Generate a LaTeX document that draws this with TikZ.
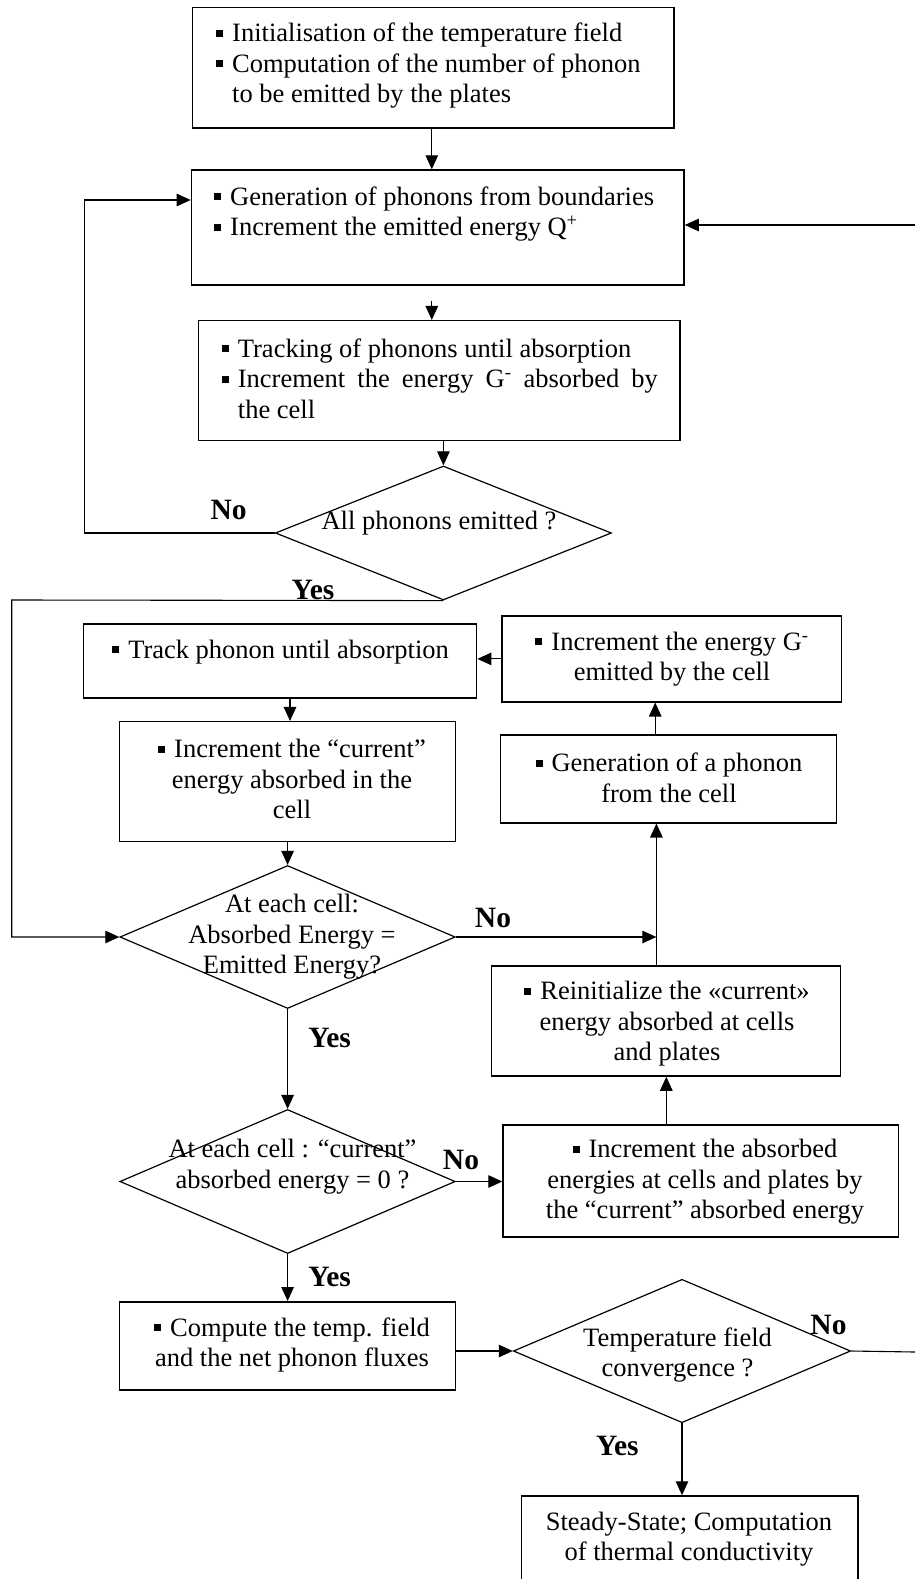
\documentclass[tikz,border=0pt]{standalone}
\usepackage{fontspec}
\setmainfont{Liberation Serif}
\usetikzlibrary{arrows.meta,shapes.geometric}
\newcommand\blt{\makebox[16pt][l]{\raisebox{5pt}{\rule{7pt}{7pt}}}}
\newcommand\hng{\makebox[16pt]{}}
\begin{document}
\begin{tikzpicture}[x=1pt,y=-1pt,
  font=\fontsize{26.5}{30.5}\selectfont,
  box/.style={draw, rectangle, line width=1.5pt, inner sep=0pt},
  dia/.style={draw, diamond, line width=1.2pt, inner sep=0pt},
  txt/.style={inner sep=0pt, align=center},
  txl/.style={inner sep=0pt, align=left, anchor=west},
  lbl/.style={inner sep=0pt, font=\fontsize{29.5}{32}\selectfont\bfseries},
  arr/.style={line width=1.1pt, -{Triangle[length=14pt,width=12.5pt]}},
  ln/.style={line width=1.1pt}]
\fill[white] (0,0) rectangle (915,1579);
\useasboundingbox (0,0) rectangle (915,1579);

% boxes
\node[box, minimum width=481.4pt, minimum height=120.7pt] (b1) at (433.3,67.65) {};
\node[box, minimum width=492.6pt, minimum height=115pt] (b2) at (437.7,227.5) {};
\node[box, minimum width=481.4pt, minimum height=120pt] (b3) at (439.1,380.7) {};
\node[box, minimum width=393.3pt, minimum height=73.7pt] (b4) at (280,660.9) {};
\node[box, minimum width=339.6pt, minimum height=85.7pt] (b5) at (671.6,658.9) {};
\node[box, minimum width=336.1pt, minimum height=87.7pt] (b6) at (668.6,778.9) {};
\node[box, minimum width=336.1pt, minimum height=120pt] (b7) at (287.6,781.7) {};
\node[box, minimum width=348.9pt, minimum height=110pt] (b8) at (665.8,1021) {};
\node[box, minimum width=395.5pt, minimum height=111.7pt] (b9) at (700.8,1180.9) {};
\node[box, minimum width=336.1pt, minimum height=88.3pt] (b10) at (287.6,1345.9) {};
\node[box, minimum width=336.5pt, minimum height=104pt] (b11) at (689.8,1548) {};

% diamonds
\node[dia, minimum width=336.1pt, minimum height=134pt] (d1) at (443.4,533) {};
\node[dia, minimum width=335.4pt, minimum height=143pt] (d2) at (287.6,937) {};
\node[dia, minimum width=335.4pt, minimum height=144pt] (d3) at (287.6,1181.5) {};
\node[dia, minimum width=337.3pt, minimum height=143.4pt] (d4) at (682,1351) {};

% box texts
\node[txl] (t1) at (216,66) {\blt Initialisation of the temperature field\\ \blt Computation of the number of phonon\\ \hng to be emitted by the plates};
\node[txl] (t2) at (214,214) {\blt Generation of phonons from boundaries\\ \blt Increment the emitted energy Q\textsuperscript{+}};
\node[txl] (t3) at (221.7,378.3) {\blt Tracking of phonons until absorption\\ \blt\makebox[420pt][s]{Increment the energy G\textsuperscript{-} absorbed by}\\ \hng the cell};
\node[txt] (t4) at (280.6,652) {\blt Track phonon until absorption};
\node[txt] (t5) at (672,659) {\blt Increment the energy G\textsuperscript{-}\\ emitted by the cell};
\node[txt] (t6) at (669,778) {\blt Generation of a phonon\\ from the cell};
\node[txt] (t7) at (292,779) {\blt Increment the “current”\\ energy absorbed in the\\ cell};
\node[txt] (t8) at (667,1023.7) {\blt Reinitialize the «current»\\ energy absorbed at cells\\ and plates};
\node[txt] (t9) at (705,1182) {\blt Increment the absorbed\\ energies at cells and plates by\\ the “current” absorbed energy};
\node[txt] (t10) at (292,1345) {\blt Compute the temp. field\\ and the net phonon fluxes};
\node[txt] (t11) at (689,1539) {Steady-State; Computation\\ of thermal conductivity};

% diamond texts
\node[txt] (td1) at (439,523) {All phonons emitted ?};
\node[txt] (td2) at (292,937) {At each cell:\\ Absorbed Energy =\\ Emitted Energy?};
\node[txt] (td3) at (292.5,1166.7) {At each cell : “current”\\ absorbed energy = 0 ?};
\node[txt] (td4) at (677.5,1355) {Temperature field\\ convergence ?};

% labels
\node[lbl] (n1) at (228.7,510) {No};
\node[lbl] (y1) at (313,590) {Yes};
\node[lbl] (n2) at (493,918) {No};
\node[lbl] (y2) at (329.6,1038) {Yes};
\node[lbl] (n3) at (461,1160) {No};
\node[lbl] (y3) at (329.6,1277) {Yes};
\node[lbl] (n4) at (828.5,1325) {No};
\node[lbl] (y4) at (617.3,1446) {Yes};

% connectors
\draw[arr] ([xshift=-1.5pt]b1.south) -- ([xshift=-5.9pt]b2.north);
\coordinate (s2) at ([xshift=-5.9pt,yshift=-15pt]b2.south);
\draw[arr] (s2) -- (s2 |- b3.north);
\draw[arr] (b3.south -| d1.north) -- (d1.north);
\coordinate (lp) at (84.6,533);
\draw[arr] (d1.west) -- (lp) |- ([yshift=27.5pt]b2.west);
\coordinate (ly) at (11.7,600);
\draw[arr] (d1.south) -- (ly) |- (d2.west);
\draw[arr] (b5.west) -- (b5.west -| b4.east);
\coordinate (s6) at ([xshift=-13.4pt]b6.north);
\draw[arr] (s6) -- (s6 |- b5.south);
\coordinate (s4) at ([xshift=10pt]b4.south);
\draw[arr] (s4) -- (s4 |- b7.north);
\draw[arr] (b7.south) -- (d2.north);
\coordinate (j) at (656.4,937);
\draw[arr] (d2.east) -- (j);
\coordinate (s8) at ([xshift=-9.4pt]b8.north);
\draw[arr] (s8) -- (s8 |- b6.south);
\draw[arr] (d2.south) -- (d3.north);
\draw[arr] (d3.east) -- (d3.east -| b9.west);
\coordinate (s9) at ([xshift=-34.5pt]b9.north);
\draw[arr] (s9) -- (s9 |- b8.south);
\draw[arr] (d3.south) -- (b10.north);
\draw[arr] (d4.west -| b10.east) -- (d4.west);
\coordinate (e1) at (915,1352);
\draw[ln] (d4.east) -- (e1);
\coordinate (e2) at (915,225);
\draw[arr] (e2) -- (e2 -| b2.east);
\draw[arr] (d4.south) -- (d4.south |- b11.north);
\end{tikzpicture}
\end{document}
